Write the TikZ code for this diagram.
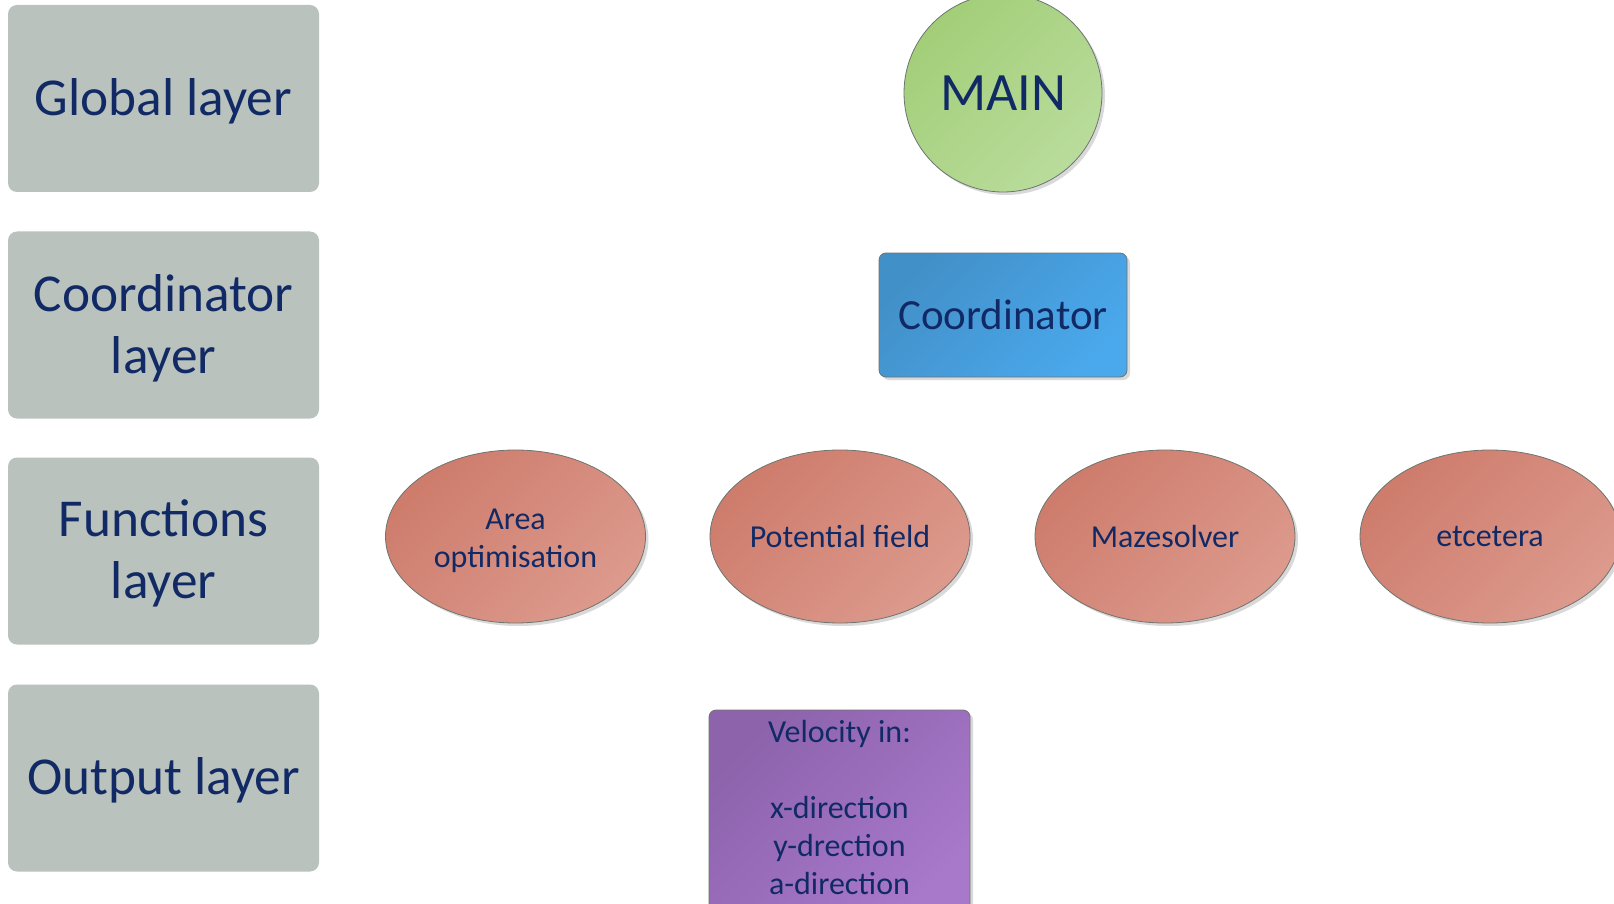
\documentclass[tikz,border=0pt]{standalone}
\usepackage{fontspec}
\setmainfont{Carlito}
\usetikzlibrary{shapes.geometric,shadows}
\definecolor{txt}{RGB}{17,42,102}
\definecolor{greybox}{RGB}{186,194,189}
\definecolor{edge}{RGB}{110,116,112}
\definecolor{greenA}{RGB}{163,206,120}
\definecolor{greenB}{RGB}{185,220,156}
\definecolor{blueA}{RGB}{66,144,200}
\definecolor{blueB}{RGB}{74,168,236}
\definecolor{redA}{RGB}{206,124,108}
\definecolor{redB}{RGB}{220,154,141}
\definecolor{purpA}{RGB}{141,99,172}
\definecolor{purpB}{RGB}{168,120,203}
% #1 = how far to lower the text block (the box gets 2x#1 extra height on top)
\newcommand{\lowtext}[2]{\raisebox{0pt}[\dimexpr\height+#1+#1\relax]{\begin{tabular}{@{}c@{}}#2\end{tabular}}}
\tikzset{
  layerbox/.style={fill=greybox, rounded corners=9pt, minimum width=311pt, minimum height=187pt,
    inner sep=0pt, text=txt, font=\fontsize{53.3}{62}\selectfont},
  shad/.style={drop shadow={shadow xshift=3pt, shadow yshift=-3pt, opacity=0.25, fill=black!60}},
  mainnode/.style={circle, draw=edge, line width=0.8pt, shad, top color=greenA, bottom color=greenB,
    shading angle=45, minimum size=198pt, inner sep=0pt, text=txt, font=\fontsize{54}{64}\selectfont},
  coordbox/.style={rectangle, rounded corners=7pt, draw=edge, line width=0.8pt, shad, top color=blueA,
    bottom color=blueB, shading angle=45, minimum width=248pt, minimum height=124pt, inner sep=0pt,
    text=txt, font=\fontsize{43}{51}\selectfont},
  funcnode/.style={ellipse, draw=edge, line width=0.8pt, shad, top color=redA, bottom color=redB,
    shading angle=45, minimum width=260pt, minimum height=173pt, inner sep=0pt, text=txt,
    font=\fontsize{32}{38}\selectfont},
  outbox/.style={rectangle, rounded corners=7pt, draw=edge, line width=0.8pt, shad, top color=purpA,
    bottom color=purpB, shading angle=45, minimum width=261pt, minimum height=205pt, inner sep=0pt},
  outtext/.style={text=txt, align=center, inner sep=0pt, font=\fontsize{32}{38}\selectfont}
}
\begin{document}
\begin{tikzpicture}[x=1pt,y=-1pt]
\useasboundingbox (0,0) rectangle (1614,904);
% layer labels
\node[layerbox] (global) at (163.5,98.5) {\lowtext{5pt}{Global layer}};
\node[layerbox] (coordl) at (163.5,325) {\lowtext{5pt}{Coordinator\\layer}};
\node[layerbox] (funcl) at (163.5,551) {\lowtext{4pt}{Functions\\layer}};
\node[layerbox] (outl) at (163.5,778) {\lowtext{4pt}{Output layer}};
% diagram
\node[mainnode] (main) at (1003,93) {MAIN};
\node[coordbox] (coord) at (1003,315) {Coordinator};
\node[funcnode] (area) at (515.5,536.5) {\lowtext{4pt}{Area\\optimisation}};
\node[funcnode] (pot) at (840,536.5) {Potential field};
\node[funcnode] (maze) at (1165,536.5) {Mazesolver};
\node[funcnode] (etc) at (1490,536.5) {etcetera};
\node[outbox] (vel) at (839.5,812.5) {};
\node[outtext] (veltext) at ([yshift=5.5pt]vel.center) {Velocity in:\\[38pt]x-direction\\y-drection\\a-direction};
\end{tikzpicture}
\end{document}
